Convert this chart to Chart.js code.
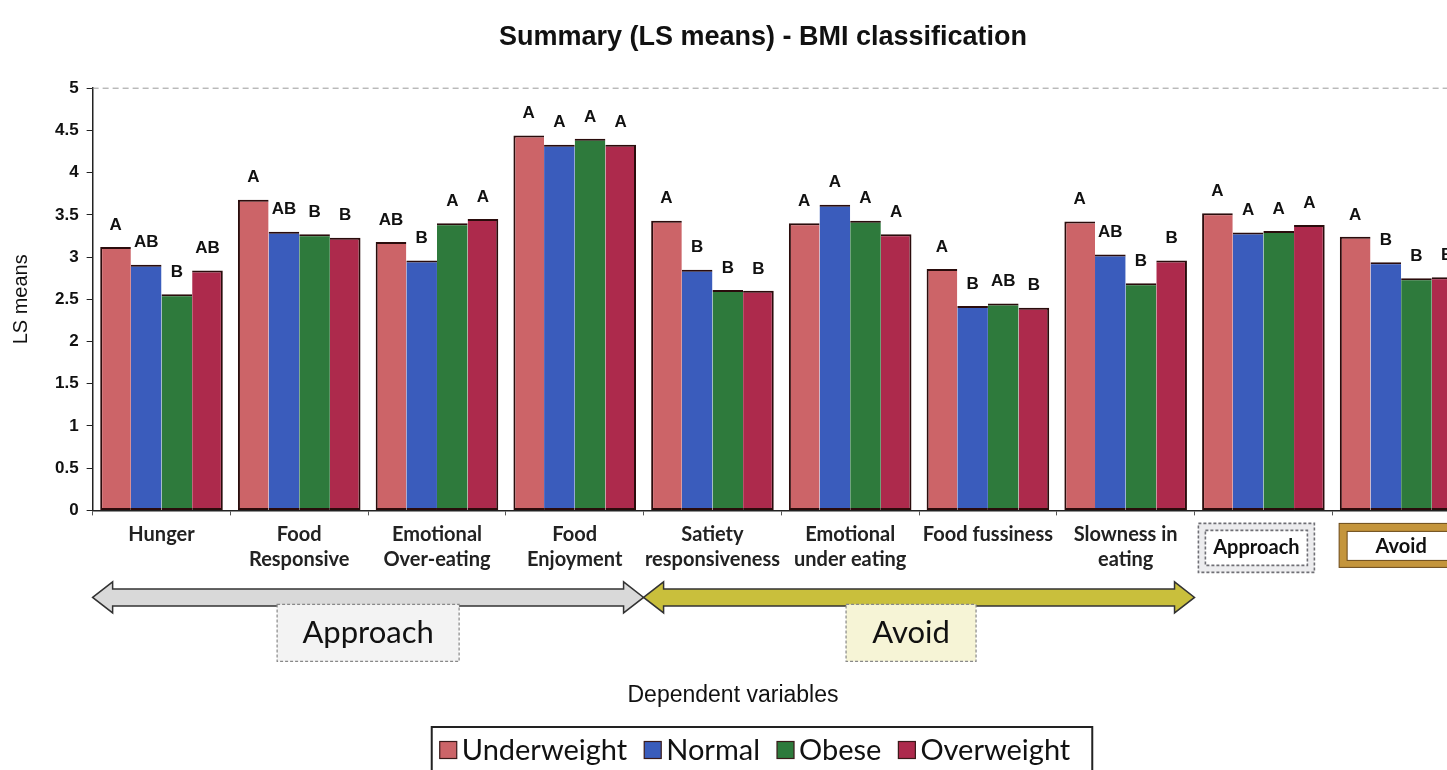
<!DOCTYPE html>
<html>
<head>
<meta charset="utf-8">
<script src="https://cdn.jsdelivr.net/npm/chart.js@4.4.1/dist/chart.umd.min.js"></script>
<style>
  html, body { margin: 0; padding: 0; background: #fff; overflow: hidden; }
  #wrap { width: 1447px; height: 770px; overflow: hidden; }
</style>
</head>
<body>
<div id="wrap"><canvas id="chart" width="1470" height="790"></canvas></div>
<script>
const categories = [
  ['Hunger'], ['Food', 'Responsive'], ['Emotional', 'Over-eating'], ['Food', 'Enjoyment'],
  ['Satiety', 'responsiveness'], ['Emotional', 'under eating'], ['Food fussiness'],
  ['Slowness in', 'eating'], ['Approach'], ['Avoid']
]
const underweight = [3.12, 3.68, 3.18, 4.44, 3.43, 3.40, 2.86, 3.42, 3.52, 3.24]
const normal      = [2.91, 3.30, 2.96, 4.33, 2.85, 3.62, 2.42, 3.03, 3.29, 2.94]
const obese       = [2.56, 3.27, 3.40, 4.40, 2.61, 3.43, 2.45, 2.69, 3.31, 2.75]
const overweight  = [2.84, 3.23, 3.45, 4.33, 2.60, 3.27, 2.40, 2.96, 3.38, 2.76]

// letter groups printed over each bar
const underweightLetters = ['A', 'A', 'AB', 'A', 'A', 'A', 'A', 'A', 'A', 'A']
const normalLetters      = ['AB', 'AB', 'B', 'A', 'B', 'A', 'B', 'AB', 'A', 'B']
const obeseLetters       = ['B', 'B', 'A', 'A', 'B', 'A', 'AB', 'B', 'A', 'B']
const overweightLetters  = ['AB', 'B', 'A', 'A', 'B', 'A', 'B', 'B', 'A', 'B']

const yMin = 0
const yMax = 5
const yStep = 0.5

const titleText = 'Summary (LS means) - BMI classification'
const xTitleText = 'Dependent variables'
const edge = '#2a0c0c'

const lettersPlugin = {
  id: 'letters',
  afterDatasetsDraw(chart) {
    const { ctx } = chart
    ctx.save()
    ctx.font = 'bold 17px "Liberation Sans", Arial, sans-serif'
    ctx.fillStyle = '#111'
    ctx.textAlign = 'center'
    ctx.textBaseline = 'middle'
    chart.data.datasets.forEach((ds, di) => {
      const meta = chart.getDatasetMeta(di)
      meta.data.forEach((bar, i) => {
        ctx.fillText(ds.letters[i], bar.x, bar.y - 22)
      })
    })
    ctx.restore()
  }
}

const decorPlugin = {
  id: 'decor',
  beforeDatasetsDraw(chart) {
    const { ctx, chartArea } = chart
    const y = chart.scales.y
    ctx.save()
    ctx.strokeStyle = '#9a9a9a'
    ctx.lineWidth = 1
    ctx.setLineDash([6, 4])
    ctx.beginPath()
    ctx.moveTo(chartArea.left, y.getPixelForValue(yMax))
    ctx.lineTo(chartArea.right, y.getPixelForValue(yMax))
    ctx.stroke()
    ctx.restore()
  },
  afterDraw(chart) {
    const { ctx } = chart
    const x = chart.scales.x
    const w = x.width / categories.length
    const base = x.top

    // chart title and x title, placed as in the source figure
    ctx.save()
    ctx.fillStyle = '#111'
    ctx.textAlign = 'center'
    ctx.textBaseline = 'middle'
    const tb = chart.titleBlock
    ctx.font = 'bold 27px "Liberation Sans", Arial, sans-serif'
    ctx.fillText(titleText, chart.width / 2 + 28, tb.top + 22 + 16)
    ctx.font = '23px "Liberation Sans", Arial, sans-serif'
    ctx.fillText(xTitleText, chart.width / 2 - 2, x.bottom - 34)
    ctx.restore()

    // boxes round the last two tick labels
    const cx8 = x.getPixelForValue(8) - 7
    ctx.save()
    ctx.fillStyle = '#ececee'
    ctx.fillRect(cx8 - 58, base + 13, 116, 49)
    ctx.fillStyle = '#fff'
    ctx.fillRect(cx8 - 51, base + 20, 102, 35)
    ctx.strokeStyle = '#6f6f75'
    ctx.lineWidth = 1.6
    ctx.setLineDash([3, 2])
    ctx.strokeRect(cx8 - 58, base + 13, 116, 49)
    ctx.strokeRect(cx8 - 51, base + 20, 102, 35)
    ctx.restore()

    const cx9 = x.getPixelForValue(9)
    ctx.save()
    ctx.fillStyle = '#c4953c'
    ctx.fillRect(cx9 - 62, base + 13, 124, 44)
    ctx.fillStyle = '#fff'
    ctx.fillRect(cx9 - 54, base + 21, 108, 29)
    ctx.strokeStyle = '#6b4a18'
    ctx.lineWidth = 1
    ctx.strokeRect(cx9 - 62, base + 13, 124, 44)
    ctx.strokeRect(cx9 - 54, base + 21, 108, 29)
    ctx.restore()

    // those two labels go on top of their boxes
    ctx.save()
    ctx.font = 'bold 20px Lato, sans-serif'
    ctx.fillStyle = '#111'
    ctx.textAlign = 'center'
    ctx.textBaseline = 'middle'
    ctx.fillText(categories[8][0], cx8, base + 37)
    ctx.fillText(categories[9][0], cx9, base + 36)
    ctx.restore()

    // double arrows
    const arrow = (x1, x2, yc, fill) => {
      const sh = 17, hh = 31, hl = 20
      ctx.save()
      ctx.beginPath()
      ctx.moveTo(x1, yc)
      ctx.lineTo(x1 + hl, yc - hh / 2)
      ctx.lineTo(x1 + hl, yc - sh / 2)
      ctx.lineTo(x2 - hl, yc - sh / 2)
      ctx.lineTo(x2 - hl, yc - hh / 2)
      ctx.lineTo(x2, yc)
      ctx.lineTo(x2 - hl, yc + hh / 2)
      ctx.lineTo(x2 - hl, yc + sh / 2)
      ctx.lineTo(x1 + hl, yc + sh / 2)
      ctx.lineTo(x1 + hl, yc + hh / 2)
      ctx.closePath()
      ctx.fillStyle = fill
      ctx.fill()
      ctx.strokeStyle = '#333'
      ctx.lineWidth = 1.5
      ctx.stroke()
      ctx.restore()
    }
    const ay = base + 87
    arrow(x.left, x.left + 4 * w, ay, '#d9d9d9')
    arrow(x.left + 4 * w, x.left + 8 * w, ay, '#c9bf3c')

    // group labels under the arrows
    const groupBox = (cx, text, bw, fill) => {
      const t = ay + 7, h = 57
      ctx.save()
      ctx.fillStyle = fill
      ctx.fillRect(cx - bw / 2, t, bw, h)
      ctx.strokeStyle = '#888'
      ctx.lineWidth = 1.2
      ctx.setLineDash([3, 2])
      ctx.strokeRect(cx - bw / 2, t, bw, h)
      ctx.setLineDash([])
      ctx.fillStyle = '#111'
      ctx.font = '31px Lato, sans-serif'
      ctx.textAlign = 'center'
      ctx.textBaseline = 'middle'
      ctx.fillText(text, cx, t + h / 2)
      ctx.restore()
    }
    groupBox(x.left + 2 * w, 'Approach', 182, '#f3f3f3')
    groupBox(x.left + 6 * w - 8, 'Avoid', 130, '#f6f4d6')

    // legend in a frame, as in the source
    const sq = 17, gap = 5, itemGap = 17
    ctx.save()
    ctx.font = '29px Lato, sans-serif'
    const items = chart.data.datasets.map(ds => ({
      text: ds.label, color: ds.backgroundColor, tw: ctx.measureText(ds.label).width
    }))
    const total = items.reduce((s, it) => s + sq + gap + it.tw, 0) + itemGap * (items.length - 1)
    let lx = chart.width / 2 + 20 - total / 2
    const ly = x.bottom + 20
    ctx.strokeStyle = '#222'
    ctx.lineWidth = 2
    ctx.strokeRect(lx - 8, x.bottom - 3, total + 30, 80)
    ctx.textBaseline = 'middle'
    ctx.textAlign = 'left'
    items.forEach(it => {
      ctx.fillStyle = it.color
      ctx.fillRect(lx, ly - sq / 2, sq, sq)
      ctx.strokeStyle = '#3a1a1a'
      ctx.lineWidth = 1.2
      ctx.strokeRect(lx, ly - sq / 2, sq, sq)
      ctx.fillStyle = '#111'
      ctx.fillText(it.text, lx + sq + gap, ly + 1)
      lx += sq + gap + it.tw + itemGap
    })
    ctx.restore()
  }
}

new Chart(document.getElementById('chart'), {
  type: 'bar',
  data: {
    labels: categories,
    datasets: [
      { label: 'Underweight', data: underweight, letters: underweightLetters, backgroundColor: '#cc6468' },
      { label: 'Normal', data: normal, letters: normalLetters, backgroundColor: '#3a5cbc' },
      { label: 'Obese', data: obese, letters: obeseLetters, backgroundColor: '#2e7a3c' },
      { label: 'Overweight', data: overweight, letters: overweightLetters, backgroundColor: '#ad2a4c' }
    ].map((ds, i) => Object.assign(ds, {
      borderColor: edge,
      borderWidth: { top: 2, bottom: 2, left: i === 0 ? 2 : 0, right: i === 3 ? 2 : 0 },
      borderSkipped: false,
      categoryPercentage: 0.89,
      barPercentage: 1.0
    }))
  },
  options: {
    responsive: false,
    animation: false,
    layout: { padding: { top: 0, left: 9, right: 0, bottom: 60 } },
    plugins: {
      // space is kept here, the text itself is drawn by the decor plugin
      title: {
        display: true,
        text: titleText,
        font: { family: '"Liberation Sans", Arial, sans-serif', size: 26, weight: 'bold' },
        color: 'rgba(0,0,0,0)',
        padding: { top: 22, bottom: 35 }
      },
      legend: { display: false },
      tooltip: { enabled: false }
    },
    scales: {
      x: {
        offset: true,
        grid: { drawOnChartArea: false, drawTicks: true, tickLength: 5, color: '#555' },
        border: { color: '#222', width: 1.5 },
        ticks: {
          font: { family: 'Lato, sans-serif', size: 20, weight: 'bold', lineHeight: 1.25 },
          color: (c) => c.index >= 8 ? 'rgba(0,0,0,0)' : '#222',
          padding: 7,
          maxRotation: 0,
          autoSkip: false
        },
        title: {
          display: true,
          text: xTitleText,
          font: { family: '"Liberation Sans", Arial, sans-serif', size: 23 },
          color: 'rgba(0,0,0,0)',
          padding: { top: 107, bottom: 16 }
        }
      },
      y: {
        min: yMin,
        max: yMax,
        grid: { drawOnChartArea: false, drawTicks: true, tickLength: 6, color: '#222' },
        border: { color: '#222', width: 1.5 },
        ticks: {
          stepSize: yStep,
          callback: (v) => String(v),
          font: { family: '"Liberation Sans", Arial, sans-serif', size: 17, weight: 'bold' },
          color: '#111',
          padding: 8
        },
        title: {
          display: true,
          text: 'LS means',
          font: { family: '"Liberation Sans", Arial, sans-serif', size: 20 },
          color: '#111',
          padding: { top: 0, bottom: 14 }
        }
      }
    }
  },
  plugins: [lettersPlugin, decorPlugin]
})
</script>
</body>
</html>
